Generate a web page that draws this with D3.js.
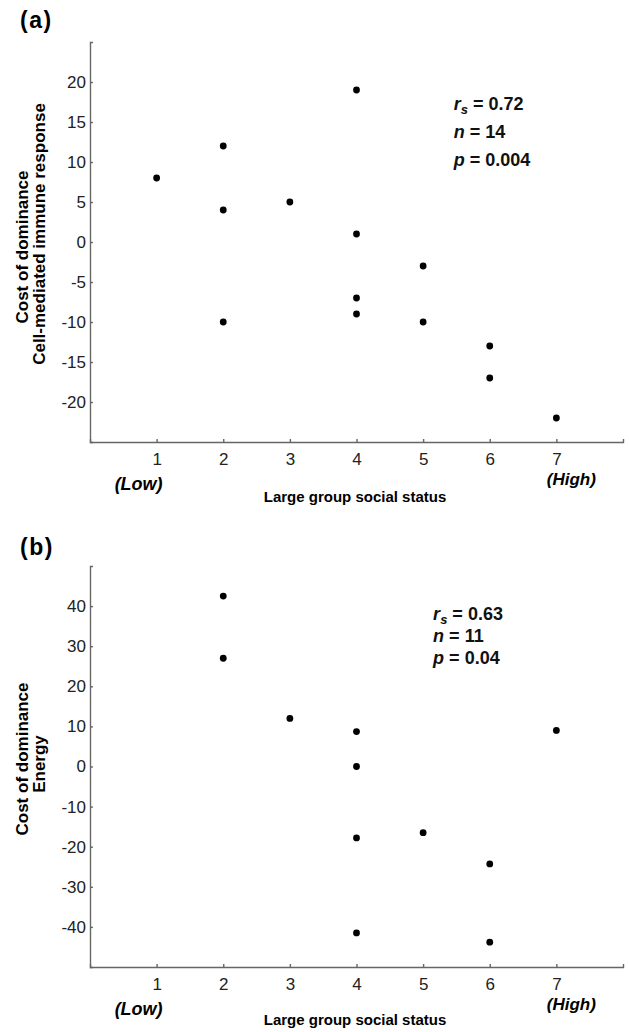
<!DOCTYPE html>
<html>
<head>
<meta charset="utf-8">
<script src="https://cdn.jsdelivr.net/npm/d3@7"></script>
<style>
  body { margin: 0; background: #fff; }
  svg { display: block; font-family: "Liberation Sans", Arial, Helvetica, sans-serif; }
</style>
</head>
<body>
<div id="chart"></div>
<script>
// social status ranks (x) and cost of dominance (y)
const statusTicks = [1, 2, 3, 4, 5, 6, 7];
const immuneStatus = [1, 2, 2, 2, 3, 4, 4, 4, 4, 5, 5, 6, 6, 7];
const immuneCost = [8, 12, 4, -10, 5, 19, 1, -7, -9, -3, -10, -13, -17, -22];
const immuneTicks = [-20, -15, -10, -5, 0, 5, 10, 15, 20];
const immuneStats = [`0.72`, `14`, `0.004`];

const energyStatus = [2, 2, 3, 4, 4, 4, 4, 5, 6, 6, 7];
const energyCost = [42.5, 27, 12, 8.7, 0, -17.8, -41.5, -16.5, -24.3, -43.8, 9];
const energyTicks = [-40, -30, -20, -10, 0, 10, 20, 30, 40];
const energyStats = [`0.63`, `11`, `0.04`];

const width = 629;
const height = 1032;

const svg = d3.select(`#chart`)
  .append(`svg`)
    .attr(`width`, width)
    .attr(`height`, height);

const drawPanel = (cfg) => {
  const left = 90, right = 623;
  const x = d3.scaleLinear().domain([0, 8]).range([left, right]);
  const y = d3.scaleLinear().domain(cfg.yDomain).range([cfg.bottom, cfg.top]);

  const g = svg.append(`g`);

  // panel letter
  g.append(`text`)
    .attr(`x`, 20)
    .attr(`y`, cfg.letterY)
    .attr(`font-size`, 23)
    .attr(`letter-spacing`, 1.5)
    .attr(`font-weight`, `bold`)
    .text(cfg.letter);

  const xAxis = g.append(`g`)
    .attr(`transform`, `translate(0,${cfg.bottom})`)
    .call(d3.axisBottom(x).tickValues(statusTicks).tickFormat(d => String(d))
      .tickSizeInner(-3).tickSizeOuter(-3).tickPadding(11));

  const yAxis = g.append(`g`)
    .attr(`transform`, `translate(${left},0)`)
    .call(d3.axisLeft(y).tickValues(cfg.yTicks).tickFormat(d => String(d))
      .tickSizeInner(-3).tickSizeOuter(-3).tickPadding(4));

  [xAxis, yAxis].forEach(a => {
    a.attr(`font-family`, null).attr(`font-size`, 17);
    a.selectAll(`path, line`).attr(`stroke`, `#666`).attr(`stroke-width`, 1.4);
    a.selectAll(`text`).attr(`fill`, `#222`);
  });

  // y label, two lines
  [[`Cost of dominance`, 28, cfg.yLabelMid[0]], [cfg.yLabel2, 45, cfg.yLabelMid[1]]].forEach(l => {
    g.append(`text`)
      .attr(`transform`, `translate(${l[1]},${l[2]}) rotate(-90)`)
      .attr(`text-anchor`, `middle`)
      .attr(`font-size`, 17)
      .attr(`font-weight`, `bold`)
      .text(l[0]);
  });

  g.append(`text`)
    .attr(`x`, 355)
    .attr(`y`, cfg.bottom + cfg.titleOffset)
    .attr(`text-anchor`, `middle`)
    .attr(`font-size`, 15)
    .attr(`font-weight`, `bold`)
    .text(`Large group social status`);

  g.append(`text`)
    .attr(`x`, x(1) - 18)
    .attr(`y`, cfg.bottom + cfg.lowOffset)
    .attr(`text-anchor`, `middle`)
    .attr(`font-size`, 18)
    .attr(`font-weight`, `bold`)
    .attr(`font-style`, `italic`)
    .text(`(Low)`);

  g.append(`text`)
    .attr(`x`, x(7) + 15)
    .attr(`y`, cfg.bottom + cfg.highOffset)
    .attr(`text-anchor`, `middle`)
    .attr(`font-size`, 17)
    .attr(`font-weight`, `bold`)
    .attr(`font-style`, `italic`)
    .text(`(High)`);

  g.selectAll(`circle`)
    .data(cfg.xs.map((d, i) => [d, cfg.ys[i]]))
    .enter().append(`circle`)
      .attr(`cx`, d => x(d[0]))
      .attr(`cy`, d => y(d[1]))
      .attr(`r`, 3.4)
      .attr(`fill`, `#000`);

  // statistics
  const st = g.append(`g`)
    .attr(`transform`, `translate(${x(cfg.statAt[0])},${y(cfg.statAt[1])})`)
    .attr(`font-size`, 18)
    .attr(`font-weight`, `bold`)
    .attr(`fill`, `#111`);
  const r = st.append(`text`).attr(`y`, 0);
  r.append(`tspan`).attr(`font-style`, `italic`).text(`r`);
  r.append(`tspan`).attr(`font-style`, `italic`).attr(`font-size`, 13).attr(`dy`, 4).text(`s`);
  r.append(`tspan`).attr(`dy`, -4).text(` = ${cfg.stats[0]}`);
  const n = st.append(`text`).attr(`y`, cfg.lineGap);
  n.append(`tspan`).attr(`font-style`, `italic`).text(`n`);
  n.append(`tspan`).text(` = ${cfg.stats[1]}`);
  const p = st.append(`text`).attr(`y`, cfg.lineGap * 2);
  p.append(`tspan`).attr(`font-style`, `italic`).text(`p`);
  p.append(`tspan`).text(` = ${cfg.stats[2]}`);
};

drawPanel({
  letter: `(a)`, letterY: 28, top: 42, bottom: 442, yDomain: [-25, 25], yTicks: immuneTicks,
  xs: immuneStatus, ys: immuneCost, yLabel2: `Cell-mediated immune response`, yLabelMid: [247, 234],
  stats: immuneStats, statAt: [5.46, 16.5], lineGap: 28,
  titleOffset: 60, lowOffset: 48, highOffset: 43,
});

drawPanel({
  letter: `(b)`, letterY: 555, top: 566, bottom: 967, yDomain: [-50, 50], yTicks: energyTicks,
  xs: energyStatus, ys: energyCost, yLabel2: `Energy`, yLabelMid: [759, 764],
  stats: energyStats, statAt: [5.15, 36.6], lineGap: 22,
  titleOffset: 58, lowOffset: 48, highOffset: 43,
});
</script>
</body>
</html>
